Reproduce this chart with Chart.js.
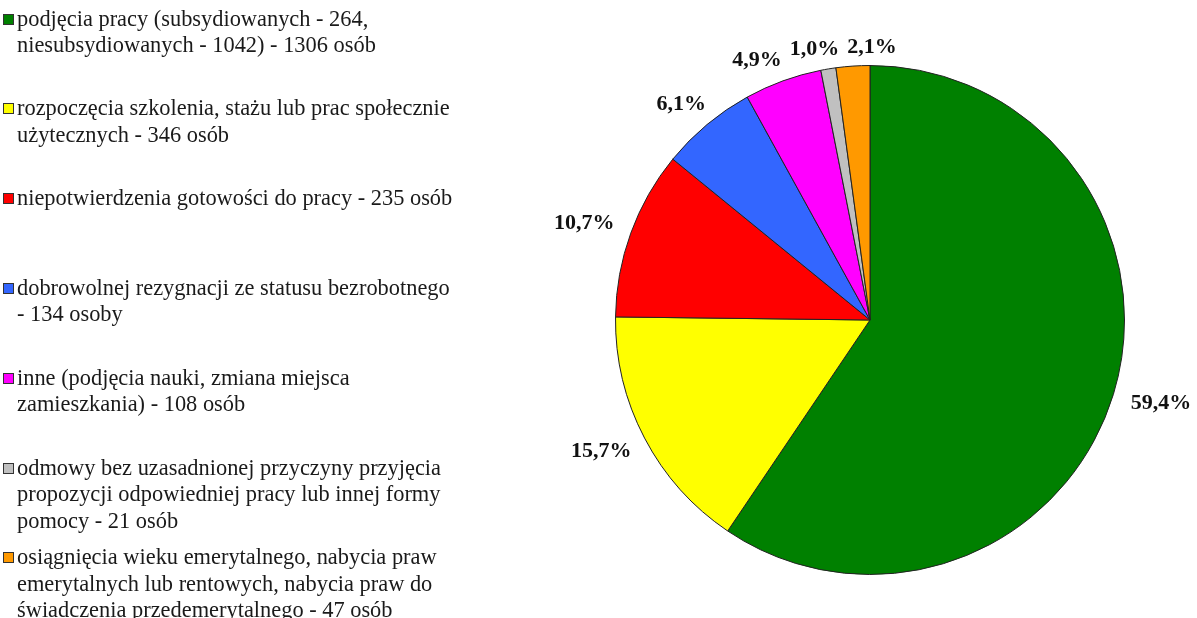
<!DOCTYPE html>
<html>
<head>
<meta charset="utf-8">
<script src="https://cdn.jsdelivr.net/npm/chart.js@4.4.0/dist/chart.umd.min.js"></script>
<style>
  html, body { margin: 0; padding: 0; background: #ffffff; }
  #wrap { position: relative; width: 1197px; height: 618px; overflow: hidden; }
  #chart { position: absolute; left: 0; top: 0; }
  .item { position: absolute; left: 0; font-family: "Liberation Serif", "Times New Roman", serif; font-size: 22.4px; line-height: 26.5px; color: #1a1a1a; white-space: nowrap; }
  .mk { position: absolute; left: 3px; top: 8px; width: 9px; height: 9px; border: 1px solid #333; }
  .txt { position: absolute; left: 17px; top: 0; }
</style>
</head>
<body>
<div id="wrap">
  <canvas id="chart" width="1197" height="618"></canvas>
</div>
<script>
// ---- data ----
const categories = [
  ["podjęcia pracy (subsydiowanych - 264,", "niesubsydiowanych - 1042) - 1306 osób"],
  ["rozpoczęcia szkolenia, stażu lub prac społecznie", "użytecznych - 346 osób"],
  ["niepotwierdzenia gotowości do pracy - 235 osób"],
  ["dobrowolnej rezygnacji ze statusu bezrobotnego", " - 134 osoby"],
  ["inne (podjęcia nauki, zmiana miejsca", "zamieszkania) - 108 osób"],
  ["odmowy bez uzasadnionej przyczyny przyjęcia", "propozycji odpowiedniej pracy lub innej formy", "pomocy - 21 osób"],
  ["osiągnięcia wieku emerytalnego, nabycia praw", "emerytalnych lub rentowych, nabycia praw do", "świadczenia przedemerytalnego - 47 osób"]
];
const values = [1306, 346, 235, 134, 108, 21, 47];
const colors = ["#008000", "#ffff00", "#ff0000", "#3366ff", "#ff00ff", "#c0c0c0", "#ff9900"];

// ---- legend (HTML text) ----
const wrap = document.getElementById('wrap');
const slot = 89.8;
categories.forEach((lines, i) => {
  const d = document.createElement('div');
  d.className = 'item';
  d.style.top = (5.5 + i * slot) + 'px';
  const mk = document.createElement('div');
  mk.className = 'mk';
  mk.style.background = colors[i];
  const t = document.createElement('div');
  t.className = 'txt';
  t.innerHTML = lines.map(l => l.replace(/&/g,'&amp;').replace(/</g,'&lt;')).join('<br>');
  d.appendChild(mk);
  d.appendChild(t);
  wrap.appendChild(d);
});

// ---- outside percentage labels ----
const total = values.reduce((a, b) => a + b, 0);
const pctLabels = {
  id: 'pctLabels',
  afterDatasetsDraw(chart) {
    const ctx = chart.ctx;
    const meta = chart.getDatasetMeta(0);
    ctx.save();
    ctx.font = 'bold 22px "Liberation Serif", "Times New Roman", serif';
    ctx.fillStyle = '#111';
    ctx.textAlign = 'center';
    ctx.textBaseline = 'middle';
    const boxes = meta.data.map((arc, i) => {
      const p = arc.getProps(['x', 'y', 'startAngle', 'endAngle', 'outerRadius'], true);
      const mid = (p.startAngle + p.endAngle) / 2;
      const dx = Math.cos(mid), dy = Math.sin(mid);
      const txt = (values[i] / total * 100).toFixed(1).replace('.', ',') + '%';
      const w = ctx.measureText(txt).width;
      const h = 20;
      const r = p.outerRadius + 8 + 12 * Math.abs(dx);
      return { txt, w, h,
        x: p.x + r * dx + (w / 2) * dx,
        y: p.y + r * dy + (h / 2) * dy };
    });
    // simple horizontal de-overlap
    for (let it = 0; it < 10; it++) {
      for (let a = 0; a < boxes.length; a++) {
        for (let b = a + 1; b < boxes.length; b++) {
          const A = boxes[a], B = boxes[b];
          const need = (A.w + B.w) / 2 + 8;
          if (Math.abs(A.y - B.y) < (A.h + B.h) / 2 && Math.abs(A.x - B.x) < need) {
            const push = (need - Math.abs(A.x - B.x)) / 2;
            if (A.x < B.x) { A.x -= push; B.x += push; } else { A.x += push; B.x -= push; }
          }
        }
      }
    }
    boxes.forEach(b => ctx.fillText(b.txt, b.x, b.y));
    ctx.restore();
  }
};

new Chart(document.getElementById('chart'), {
  type: 'pie',
  data: {
    labels: categories.map(l => l.join(' ')),
    datasets: [{
      data: values,
      backgroundColor: colors,
      borderColor: '#222222',
      borderWidth: 1
    }]
  },
  options: {
    responsive: false,
    animation: false,
    layout: { padding: { left: 615, right: 72, top: 65, bottom: 43 } },
    plugins: {
      legend: { display: false },
      tooltip: { enabled: false }
    }
  },
  plugins: [pctLabels]
});
</script>
</body>
</html>
